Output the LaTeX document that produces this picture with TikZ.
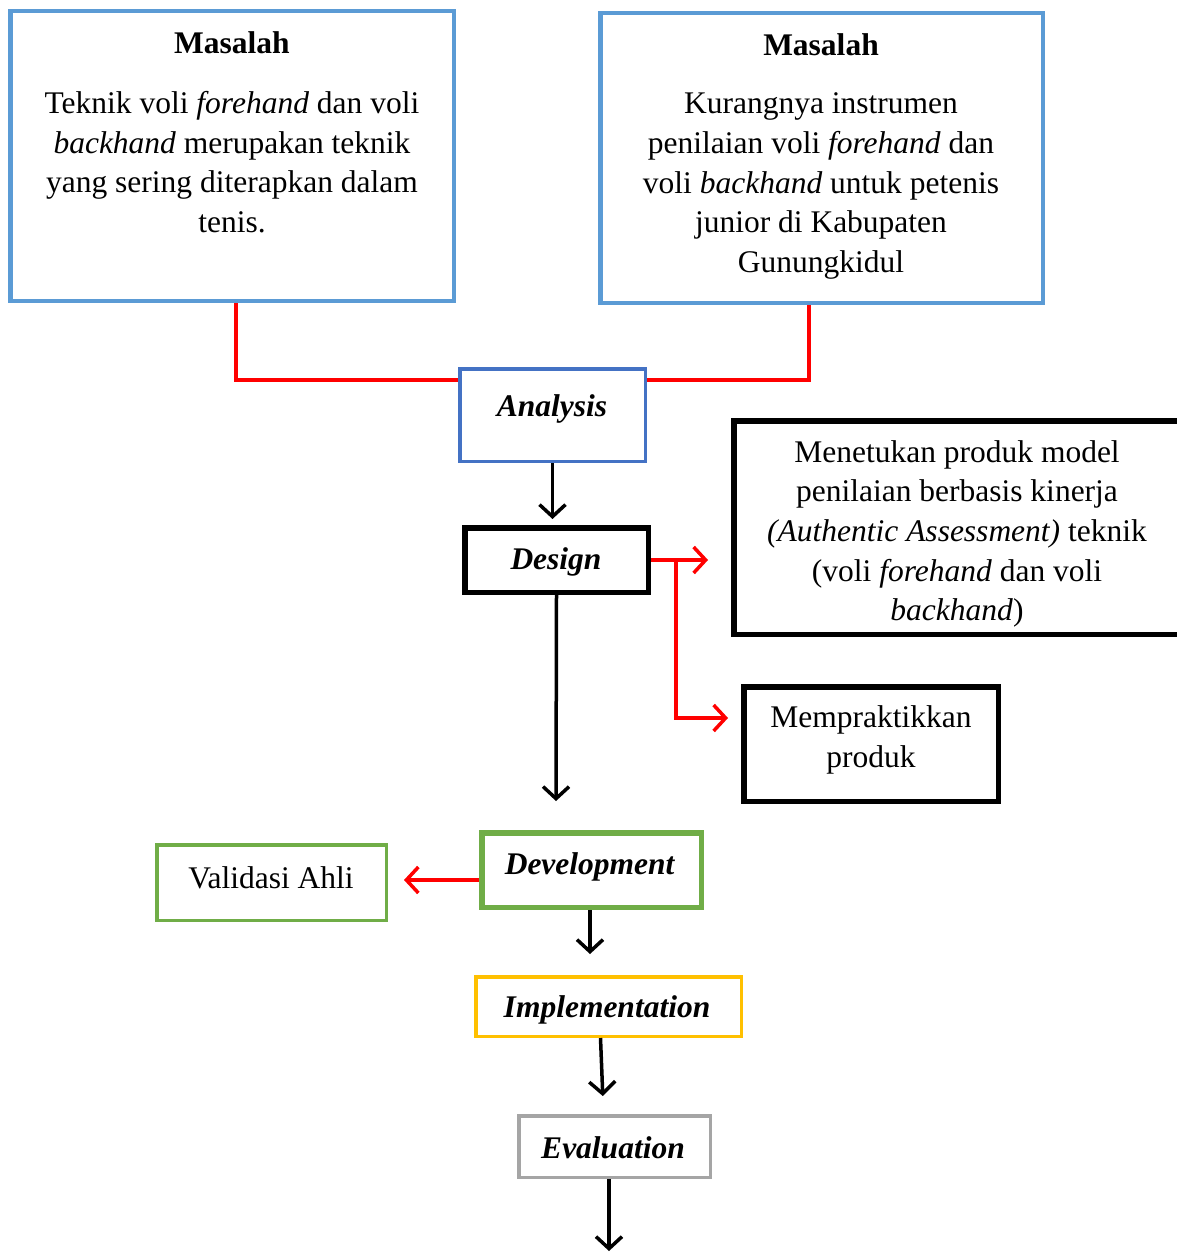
\documentclass[tikz,border=0pt]{standalone}
\usepackage{fontspec}
\setmainfont{Liberation Serif}
\usetikzlibrary{arrows.meta}
\definecolor{mblue}{HTML}{5B9BD5}
\definecolor{ablue}{HTML}{4472C4}
\definecolor{dgreen}{HTML}{70AD47}
\definecolor{igold}{HTML}{FFC000}
\definecolor{egray}{HTML}{A5A5A5}
\definecolor{rline}{HTML}{FF0000}
\tikzset{
  box/.style={draw, rectangle, inner sep=0pt, fill=none},
  txt/.style={inner sep=0pt, align=center, font=\fontsize{31.5}{39.7}\selectfont},
  redln/.style={draw=rline, line width=3.5pt},
  redarr/.style={draw=rline, line width=3.5pt, -{Straight Barb[length=12pt,width=26pt,line width=3.5pt]}},
  blkarr/.style={draw=black, line width=3.5pt, -{Straight Barb[length=12pt,width=26pt,line width=3.5pt]}},
}
\begin{document}
\begin{tikzpicture}[x=1pt,y=-1pt]
\clip (0,0) rectangle (1177,1252);
\fill[white] (0,0) rectangle (1177,1252);
% boxes
\node[box, draw=mblue, line width=4.5pt, minimum width=443.5pt, minimum height=289.5pt] (m1) at (232,156) {};
\node[box, draw=mblue, line width=4.5pt, minimum width=442.5pt, minimum height=289.5pt] (m2) at (821.5,158) {};
\node[box, draw=ablue, line width=3.5pt, minimum width=185.5pt, minimum height=92.5pt] (an) at (552.5,415) {};
\node[box, draw=black, line width=5.5pt, minimum width=183.5pt, minimum height=64.5pt] (de) at (556.5,560) {};
\node[box, draw=black, line width=5.5pt, minimum width=456pt, minimum height=213.5pt] (me) at (961.75,527.5) {};
\node[box, draw=black, line width=5.5pt, minimum width=254.5pt, minimum height=114.5pt] (mp) at (871,744) {};
\node[box, draw=dgreen, line width=5.5pt, minimum width=219.5pt, minimum height=74.5pt] (dev) at (591.5,870) {};
\node[box, draw=dgreen, line width=3.5pt, minimum width=229.5pt, minimum height=75.5pt] (va) at (271.5,882.5) {};
\node[box, draw=igold, line width=3.5pt, minimum width=265.5pt, minimum height=59.5pt] (im) at (608.5,1006.5) {};
\node[box, draw=egray, line width=3.5pt, minimum width=191.5pt, minimum height=61.5pt] (ev) at (614.5,1146.5) {};
% texts
\node[txt] (t1a) at (232,43) {\textbf{Masalah}};
\node[txt] (t1b) at (232,162) {Teknik voli \textit{forehand} dan voli\\ \textit{backhand} merupakan teknik\\ yang sering diterapkan dalam\\ tenis.};
\node[txt] (t2a) at (821,45) {\textbf{Masalah}};
\node[txt] (t2b) at (821,186) {Kurangnya instrumen\\ penilaian voli \textit{forehand} dan\\ voli \textit{backhand} untuk petenis\\ junior di Kabupaten\\ Gunungkidul};
\node[txt] (tan) at (552,409) {\textbf{\textit{Analysis}}};
\node[txt] (tde) at (556,562) {\textbf{\textit{Design}}};
\node[txt] (tme) at (957,534) {Menetukan produk model\\ penilaian berbasis kinerja\\ \textit{(Authentic Assessment)} teknik\\ (voli \textit{forehand} dan voli\\ \textit{backhand})};
\node[txt] (tmp) at (871,740) {Mempraktikkan\\ produk};
\node[txt] (tdev) at (590,867) {\textbf{\textit{Development}}};
\node[txt] (tva) at (271,878) {Validasi Ahli};
\node[txt] (tim) at (607,1010) {\textbf{\textit{Implementation}}};
\node[txt] (tev) at (613,1148) {\textbf{\textit{Evaluation}}};
% connectors
\draw[redln] ([xshift=4pt]m1.south) |- ([yshift=35pt]an.west);
\draw[redln] ([xshift=-12.5pt]m2.south) |- ([yshift=35pt]an.east);
\draw[blkarr, shorten >=6pt] (an.south) -- (an.south |- de.north);
\draw[redarr] (de.east) -- ([xshift=-23pt]me.west |- de.east);
\draw[redarr] ([xshift=25pt]de.east) |- ([xshift=-13pt,yshift=26pt]mp.west);
\coordinate (d1) at (556,801);
\draw[blkarr] (de.south) -- (d1);
\draw[redarr] ([yshift=-10pt]dev.west) -- ([xshift=16pt,yshift=2.5pt]va.east);
\draw[blkarr, shorten >=21pt] ([xshift=-1.5pt]dev.south) -- ([xshift=-1.5pt]dev.south |- im.north);
\draw[blkarr, shorten >=18pt] ([xshift=-8pt]im.south) -- ([xshift=-11pt]ev.north);
\coordinate (e1) at (609,1251);
\draw[blkarr] ([xshift=-5.5pt]ev.south) -- (e1);
\end{tikzpicture}
\end{document}
